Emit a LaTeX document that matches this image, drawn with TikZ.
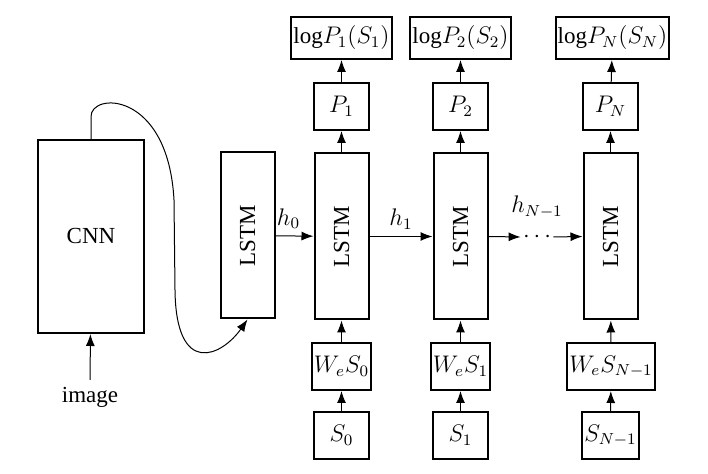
\documentclass[tikz,border=0pt]{standalone}
\usepackage{fontspec}
\setmainfont{Liberation Serif}
\usepackage{graphicx}
\usetikzlibrary{arrows.meta}
\tikzset{
  box/.style={draw,line width=1pt,minimum width=27.5pt,minimum height=23.5pt,inner sep=1pt},
  cell/.style={box,minimum width=27pt,minimum height=83pt},
  logbox/.style={box,minimum width=49.5pt,minimum height=21pt},
  link/.style={-{Latex[length=6pt,width=4.5pt]},line width=0.5pt},
}
\begin{document}
\begin{tikzpicture}[x=0.5pt,y=-0.5pt,font=\fontsize{11.5}{14}\selectfont]
    \useasboundingbox (0,0) rectangle (708,474);
    % encoder
    \node[box,minimum width=53pt,minimum height=96.5pt] (cnn) at (91,236.5) {CNN};
    \node (image) at (90,397) {image};
    \draw[link] (image) -- (cnn);
    % lstm chain
    \node[cell] (lstm0) at (247.5,235.5) {\rotatebox{90}{LSTM}};
    \node[cell] (lstm1) at (341.5,236.5) {\rotatebox{90}{LSTM}};
    \node[cell] (lstm2) at (460.5,236.5) {\rotatebox{90}{LSTM}};
    \node[cell] (lstmN) at (610.5,236.5) {\rotatebox{90}{LSTM}};
    \draw[link] (cnn.north) -- ++(0,-22)
        .. controls (90,92) and (168,90) .. (174,200) -- (175,290)
        .. controls (176,378) and (222,356) .. (lstm0.south);
    \node[inner sep=1pt] (dots) at (537,237) {$\cdots$};
    \draw[link] (lstm0) -- node[above,xshift=-3pt] {$h_0$} (lstm1);
    \draw[link] (lstm1) -- node[above] {$h_1$} (lstm2);
    \draw[link] (lstm2.east) -- (dots.west);
    \draw[link] (dots.east) -- (lstmN.west);
    \node[above=6pt] (hN) at (dots) {$h_{N-1}$};
    % outputs
    \node[box] (p1) at (341.5,106.5) {$P_1$};
    \node[box] (p2) at (460.5,106.5) {$P_2$};
    \node[box] (pN) at (610.5,106.5) {$P_N$};
    \node[logbox] (log1) at (341.5,38) {log$P_1(S_1)$};
    \node[logbox] (log2) at (460.5,38) {log$P_2(S_2)$};
    \node[logbox] (logN) at (612.5,38) {log$P_N(S_N)$};
    % inputs
    \node[box] (we0) at (341.5,366.5) {$W_eS_0$};
    \node[box] (we1) at (460.5,366.5) {$W_eS_1$};
    \node[box] (weN) at (611,366.5) {$W_eS_{N-1}$};
    \node[box] (s0) at (341.5,435.5) {$S_0$};
    \node[box] (s1) at (460.5,435.5) {$S_1$};
    \node[box] (sN) at (610.5,435.5) {$S_{N-1}$};
    \draw[link] (s0) -- (we0);
    \draw[link] (s1) -- (we1);
    \draw[link] (sN) -- (weN);
    \draw[link] (we0) -- (lstm1);
    \draw[link] (we1) -- (lstm2);
    \draw[link] (weN) -- (lstmN);
    \draw[link] (lstm1) -- (p1);
    \draw[link] (lstm2) -- (p2);
    \draw[link] (lstmN) -- (pN);
    \draw[link] (p1) -- (log1);
    \draw[link] (p2) -- (log2);
    \draw[link] (pN) -- (logN);
\end{tikzpicture}
\end{document}
